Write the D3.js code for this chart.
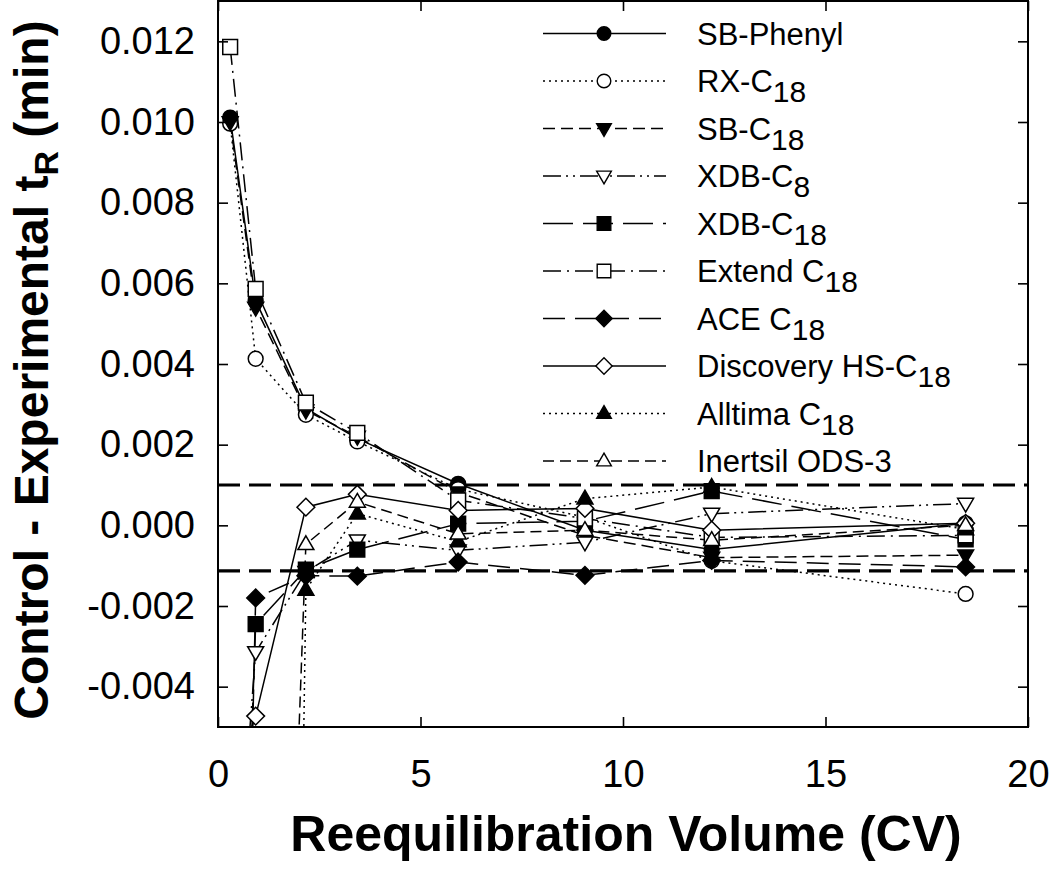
<!DOCTYPE html>
<html>
<head>
<meta charset="utf-8">
<script src="https://cdn.jsdelivr.net/npm/d3@7"></script>
<style>
  html, body { margin: 0; padding: 0; background: #fff; }
  svg { display: block; font-family: "Liberation Sans", Arial, Helvetica, sans-serif; }
</style>
</head>
<body>
<svg id="chart" width="1050" height="879"></svg>
<script>
// ---- data ----
const volumes = [0.3, 0.93, 2.17, 3.44, 5.93, 9.06, 12.19, 18.46];

const sbPhenyl    = [0.01011, 0.00557, 0.00290, 0.00215, 0.00103, -0.00012, -0.00060, 0.00005];
const rxC18       = [0.00996, 0.00413, 0.00274, 0.00208, 0.00090, 0.00020, -0.00088, -0.00170];
const sbC18       = [0.01000, 0.00540, 0.00285, 0.00220, 0.00082, -0.00025, -0.00080, -0.00074];
const xdbC8       = [-0.0115, -0.00314, -0.00115, -0.00037, -0.00062, -0.00042, 0.00029, 0.00054];
const xdbC18      = [-0.0200, -0.00245, -0.00110, -0.00060, 0.00004, 0.00010, 0.00085, -0.00035];
const extendC18   = [0.01186, 0.00586, 0.00304, 0.00229, 0.00062, 0.00017, -0.00030, -0.00025];
const aceC18      = [-0.0300, -0.00180, -0.00125, -0.00126, -0.00091, -0.00124, -0.00087, -0.00103];
const discoveryHS = [-0.0065, -0.00473, 0.00045, 0.00077, 0.00037, 0.00042, -0.00012, 0.00005];
const alltimaC18  = [null, -0.0850, -0.00160, 0.00029, -0.00040, 0.00066, 0.00095, -0.00010];
const inertsil    = [null, -0.0340, -0.00047, 0.00058, -0.00021, -0.00012, -0.00037, 0.00000];

const seriesNames = ["SB-Phenyl", "RX-C", "SB-C", "XDB-C", "XDB-C", "Extend C", "ACE C", "Discovery HS-C", "Alltima C", "Inertsil ODS-3"];
const seriesSubs  = ["", "18", "18", "8", "18", "18", "18", "18", "18", ""];
const seriesValues = [sbPhenyl, rxC18, sbC18, xdbC8, xdbC18, extendC18, aceC18, discoveryHS, alltimaC18, inertsil];

const limitLines = [0.001, -0.00113];

const xTicks = [0, 5, 10, 15, 20];
const xTickLabels = ["0", "5", "10", "15", "20"];
const yTicks = [-0.004, -0.002, 0, 0.002, 0.004, 0.006, 0.008, 0.010, 0.012];
const yTickLabels = ["-0.004", "-0.002", "0.000", "0.002", "0.004", "0.006", "0.008", "0.010", "0.012"];

// ---- styles (not data) ----
const markerShapes = ["circle", "circle", "triDown", "triDown", "square", "square", "diamond", "diamond", "triUp", "triUp"];
const markerFilled = [true, false, true, false, true, false, true, false, true, false];
const dashes = [null, "2,4", "12,6", "18,5,2,5,2,5", "30,10", "18,6,2,6", "22,10", null, "2,4", "11,6"];

// ---- layout ----
const L = 218, R = 1028, T = 1, B = 727;
const svg = d3.select("#chart");
const x = d3.scaleLinear().domain([0, 20]).range([L, R]);
const y = d3.scaleLinear().domain([-0.005, 0.013]).range([B, T]);

svg.append("defs").append("clipPath").attr("id", "plotclip")
  .append("rect").attr("x", L).attr("y", T).attr("width", R - L).attr("height", B - T);

// custom symbol types
const symbolTypes = {
  circle: { draw(c, s) { c.moveTo(s, 0); c.arc(0, 0, s, 0, 2 * Math.PI); } },
  square: { draw(c, s) { c.rect(-s, -s, 2 * s, 2 * s); } },
  diamond: { draw(c, s) { const r = s * 1.2; c.moveTo(0, -r); c.lineTo(r, 0); c.lineTo(0, r); c.lineTo(-r, 0); c.closePath(); } },
  triUp: { draw(c, s) { const w = s * 1.08, h = s * 1.15; c.moveTo(0, -h); c.lineTo(w, h * 0.62); c.lineTo(-w, h * 0.62); c.closePath(); } },
  triDown: { draw(c, s) { const w = s * 1.08, h = s * 1.15; c.moveTo(0, h); c.lineTo(w, -h * 0.62); c.lineTo(-w, -h * 0.62); c.closePath(); } }
};
const markerSize = 7.4;
function symPath(i, s) { return d3.symbol().type(symbolTypes[markerShapes[i]]).size(s)(); }

// limit dashed lines
svg.append("g").selectAll("line").data(limitLines).join("line")
  .attr("x1", L).attr("x2", R)
  .attr("y1", d => y(d)).attr("y2", d => y(d))
  .attr("stroke", "#000").attr("stroke-width", 3.2).attr("stroke-dasharray", "22,9");

// series
const plot = svg.append("g").attr("clip-path", "url(#plotclip)");
const lineGen = d3.line().defined(d => d.v !== null).x(d => x(d.x)).y(d => y(d.v));
seriesValues.forEach((vals, i) => {
  const pts = vals.map((v, k) => ({ x: volumes[k], v: v }));
  plot.append("path").datum(pts)
    .attr("d", lineGen)
    .attr("fill", "none").attr("stroke", "#000").attr("stroke-width", 1.5)
    .attr("stroke-dasharray", dashes[i]);
});
seriesValues.forEach((vals, i) => {
  const pts = vals.map((v, k) => ({ x: volumes[k], v: v }))
    .filter(d => d.v !== null && d.v >= y.domain()[0] && d.v <= y.domain()[1]);
  plot.append("g").selectAll("path").data(pts).join("path")
    .attr("d", symPath(i, markerSize))
    .attr("transform", d => `translate(${x(d.x)},${y(d.v)})`)
    .attr("fill", markerFilled[i] ? "#000" : "#fff")
    .attr("stroke", "#000").attr("stroke-width", 1.5);
});

// axes
const fontTick = 38;
const xAxisB = d3.axisBottom(x).tickValues(xTicks).tickFormat((d, i) => xTickLabels[i]).tickSizeInner(-10).tickSizeOuter(0).tickPadding(33);
const xAxisT = d3.axisTop(x).tickValues(xTicks).tickFormat("").tickSizeInner(-10).tickSizeOuter(0);
const yAxisL = d3.axisLeft(y).tickValues(yTicks).tickFormat((d, i) => yTickLabels[i]).tickSizeInner(-10).tickSizeOuter(0).tickPadding(23);
const yAxisR = d3.axisRight(y).tickValues(yTicks).tickFormat("").tickSizeInner(-10).tickSizeOuter(0);

function styleAxis(g) {
  g.select(".domain").remove();
  g.selectAll(".tick line").attr("stroke", "#000").attr("stroke-width", 1.6);
  g.selectAll(".tick text").attr("fill", "#000").style("font-size", fontTick + "px")
    .style("font-family", '"Liberation Sans", Arial, sans-serif');
}
svg.append("g").attr("transform", `translate(0,${B})`).call(xAxisB).call(styleAxis);
svg.append("g").attr("transform", `translate(0,${T})`).call(xAxisT).call(styleAxis);
svg.append("g").attr("transform", `translate(${L},0)`).call(yAxisL).call(styleAxis);
svg.append("g").attr("transform", `translate(${R},0)`).call(yAxisR).call(styleAxis);

// frame
svg.append("rect").attr("x", L).attr("y", T).attr("width", R - L).attr("height", B - T)
  .attr("fill", "none").attr("stroke", "#000").attr("stroke-width", 2);

// axis titles
svg.append("text").attr("x", (L + R) / 2 + 3).attr("y", 851)
  .attr("text-anchor", "middle").attr("font-weight", "bold").attr("font-size", 50)
  .text("Reequilibration Volume (CV)");

const yt = svg.append("text").attr("transform", "translate(48,370) rotate(-90)")
  .attr("text-anchor", "middle").attr("font-weight", "bold").attr("font-size", 48);
yt.append("tspan").text("Control - Experimental t");
yt.append("tspan").attr("font-size", 34).attr("dy", 10).text("R");
yt.append("tspan").attr("dy", -10).text(" (min)");

// legend
const legX1 = 543, legX2 = 666, legM = 604, legT = 697;
const leg = svg.append("g");
seriesNames.forEach((name, i) => {
  const ly = 33.5 + i * 47.5;
  leg.append("line").attr("x1", legX1).attr("x2", legX2).attr("y1", ly).attr("y2", ly)
    .attr("stroke", "#000").attr("stroke-width", 1.4).attr("stroke-dasharray", dashes[i]);
  leg.append("path").attr("d", symPath(i, 6.8)).attr("transform", `translate(${legM},${ly})`)
    .attr("fill", markerFilled[i] ? "#000" : "#fff").attr("stroke", "#000").attr("stroke-width", 1.4);
  const t = leg.append("text").attr("x", legT).attr("y", ly + 11).attr("font-size", 31);
  t.append("tspan").text(name);
  if (seriesSubs[i]) t.append("tspan").attr("dy", 10).attr("font-size", 30).text(seriesSubs[i]);
});
</script>
</body>
</html>
